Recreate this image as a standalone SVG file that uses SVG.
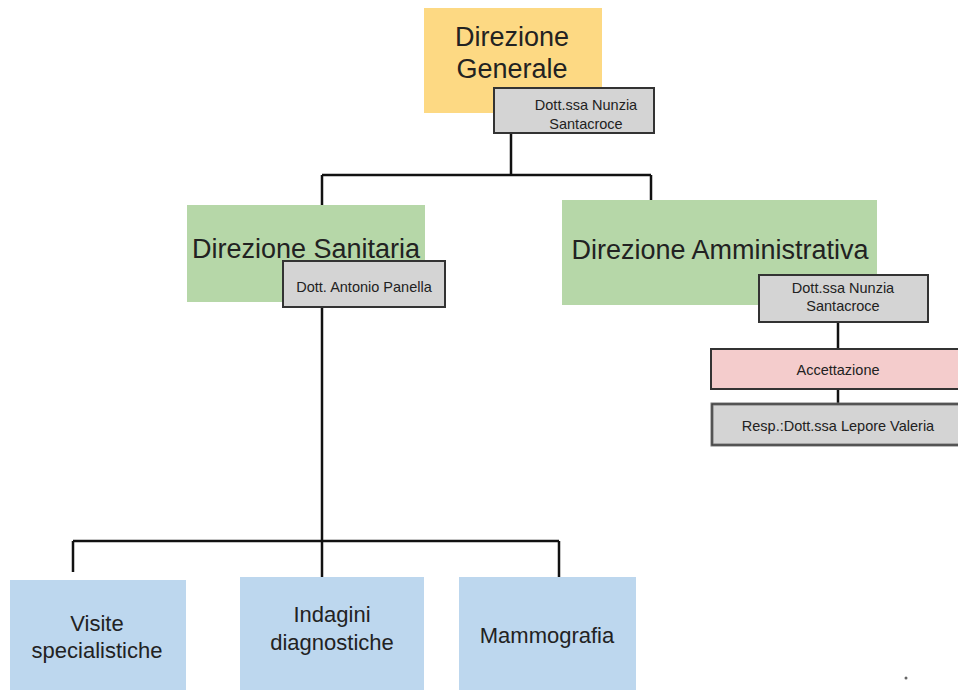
<svg xmlns="http://www.w3.org/2000/svg" width="958" height="690" viewBox="0 0 958 690">
<style>
text{font-family:"Liberation Sans","Open Sans",sans-serif;fill:#222;text-anchor:middle}
.big{font-size:27px}
.mid{font-size:22px}
.sm{font-size:14.5px}
.gray{fill:#d4d4d4;stroke:#333;stroke-width:2}
.yel{fill:#fdd983}
.grn{fill:#b6d7a8}
.blu{fill:#bdd7ee}
.pnk{fill:#f4cccc;stroke:#333;stroke-width:2}
.ln{fill:none;stroke:#111;stroke-width:2.5}
</style>
<rect width="958" height="690" fill="#fff"/>
<g id="connectors">
<path class="ln" d="M511,134 V175 M322,175 H651 M322,175 V205 M651,175 V200"/>
<path class="ln" d="M322,307 V577 M73,541 H559 M73,541 V572 M559,541 V577"/>
<path class="ln" d="M838,322 V349 M838,389 V405"/>
</g>
<g id="direzione-generale">
<rect class="yel" x="424" y="8" width="178" height="105"/>
<text class="big" x="512" y="46">Direzione</text>
<text class="big" x="512" y="78">Generale</text>
</g>
<g id="dg-resp">
<rect class="gray" x="494" y="88" width="160" height="45"/>
<text class="sm" x="586" y="110">Dott.ssa Nunzia</text>
<text class="sm" x="586" y="129">Santacroce</text>
</g>
<g id="direzione-sanitaria">
<rect class="grn" x="187" y="205" width="238" height="97"/>
<text class="big" x="306" y="258">Direzione Sanitaria</text>
</g>
<g id="ds-resp">
<rect class="gray" x="283" y="261" width="162" height="46"/>
<text class="sm" x="364" y="292">Dott. Antonio Panella</text>
</g>
<g id="direzione-amministrativa">
<rect class="grn" x="562" y="200" width="315" height="105"/>
<text class="big" x="720" y="259">Direzione Amministrativa</text>
</g>
<g id="da-resp">
<rect class="gray" x="759" y="275" width="169" height="47"/>
<text class="sm" x="843" y="293">Dott.ssa Nunzia</text>
<text class="sm" x="843" y="311">Santacroce</text>
</g>
<g id="accettazione">
<rect class="pnk" x="711" y="349" width="250" height="40"/>
<text class="sm" x="838" y="375">Accettazione</text>
</g>
<g id="accettazione-resp">
<rect x="712" y="404" width="250" height="41" fill="#d4d4d4" stroke="#777" stroke-width="3"/>
<rect x="712" y="404" width="250" height="41" fill="none" stroke="#333" stroke-width="1"/>
<text class="sm" x="838" y="431">Resp.:Dott.ssa Lepore Valeria</text>
</g>
<g id="visite">
<rect class="blu" x="10" y="580" width="176" height="110"/>
<text class="mid" x="97" y="631">Visite</text>
<text class="mid" x="97" y="658">specialistiche</text>
</g>
<g id="indagini">
<rect class="blu" x="240" y="577" width="184" height="113"/>
<text class="mid" x="332" y="622">Indagini</text>
<text class="mid" x="332" y="650">diagnostiche</text>
</g>
<g id="mammografia">
<rect class="blu" x="459" y="577" width="177" height="113"/>
<text class="mid" x="547" y="643">Mammografia</text>
</g>
<circle cx="906" cy="678" r="1.5" fill="#666"/>
</svg>
